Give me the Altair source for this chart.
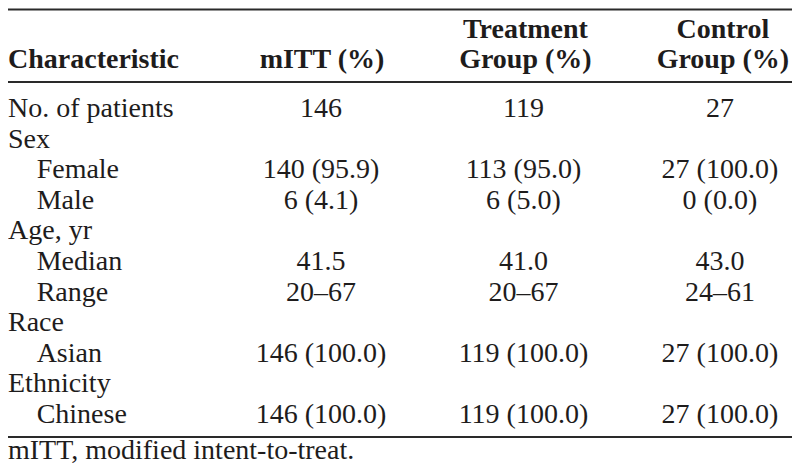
import altair as alt
import pandas as pd

# ---------------- data ----------------
ROW_LABELS = ["No. of patients", "Sex", "Female", "Male", "Age, yr", "Median",
              "Range", "Race", "Asian", "Ethnicity", "Chinese"]
INDENT = [0, 0, 1, 1, 0, 1, 1, 0, 1, 0, 1]
MITT = ["146", "", "140 (95.9)", "6 (4.1)", "", "41.5", "20–67", "",
        "146 (100.0)", "", "146 (100.0)"]
TREATMENT = ["119", "", "113 (95.0)", "6 (5.0)", "", "41.0", "20–67", "",
             "119 (100.0)", "", "119 (100.0)"]
CONTROL = ["27", "", "27 (100.0)", "0 (0.0)", "", "43.0", "24–61", "",
           "27 (100.0)", "", "27 (100.0)"]
HEADER_TOP = ["", "", "Treatment", "Control"]
HEADER_BOTTOM = ["Characteristic", "mITT (%)", "Group (%)", "Group (%)"]
FOOTNOTE = "mITT, modified intent-to-treat."

# ---------------- layout ----------------
W, H = 784, 457
FONT = "Liberation Serif"
FS = 28
INK = "#1e1c1c"
LABEL_X = [3, 32]            # normal / indented label start
VALUE_X = [320, 525, 724]    # value column centres
HEAD_X = [3, 321, 527, 727]  # header positions
ROW_PX, ROW0_PX = 30.6, 117.0
def row_of(px):
    return (px - ROW0_PX) / ROW_PX
Y_DOMAIN = [row_of(8), row_of(465)]
HEAD_TOP_R, HEAD_BOT_R = row_of(38), row_of(68)
RULES_R = [row_of(9.5), row_of(82), row_of(437)]
FOOT_R = row_of(458.5)

xs = alt.Scale(domain=[3, 797], nice=False, zero=False)
ys = alt.Scale(domain=Y_DOMAIN, reverse=True, nice=False, zero=False)

# label cells
lab = pd.DataFrame({
    "text": ROW_LABELS,
    "x": [LABEL_X[i] for i in INDENT],
    "r": list(range(len(ROW_LABELS))),
})
lab = pd.concat([lab, pd.DataFrame({"text": [FOOTNOTE], "x": [LABEL_X[0]], "r": [FOOT_R]})])

# value cells
rows = []
for ci, col in enumerate([MITT, TREATMENT, CONTROL]):
    for ri, v in enumerate(col):
        if v:
            rows.append({"text": v, "x": VALUE_X[ci], "r": ri})
val = pd.DataFrame(rows)

# header cells
hl, hc = [], []
for ci, t in enumerate(HEADER_TOP):
    if t:
        hc.append({"text": t, "x": HEAD_X[ci], "r": HEAD_TOP_R})
for ci, t in enumerate(HEADER_BOTTOM):
    (hl if ci == 0 else hc).append({"text": t, "x": HEAD_X[ci], "r": HEAD_BOT_R})
head_left = pd.DataFrame(hl)
head_center = pd.DataFrame(hc)

rules = pd.DataFrame({"r": RULES_R})

def txt(df, align, weight="normal"):
    return alt.Chart(df).mark_text(
        align=align, baseline="alphabetic", font=FONT, fontSize=FS,
        fontWeight=weight, color=INK
    ).encode(
        x=alt.X("x:Q", scale=xs, axis=None),
        y=alt.Y("r:Q", scale=ys, axis=None),
        text="text:N",
    )

rule_layer = alt.Chart(rules).mark_rule(color="#2a2a2a", strokeWidth=2).encode(
    y=alt.Y("r:Q", scale=ys, axis=None),
    x=alt.value(0), x2=alt.value(W),
)

chart = alt.layer(
    rule_layer,
    txt(lab, "left"),
    txt(val, "center"),
    txt(head_left, "left", "bold"),
    txt(head_center, "center", "bold"),
).properties(
    width=W, height=H, padding=0,
    autosize=alt.AutoSizeParams(type="none"),
    background="white",
).configure_view(stroke=None)

chart.save("out.html", embed_options={"renderer": "svg", "actions": False})
